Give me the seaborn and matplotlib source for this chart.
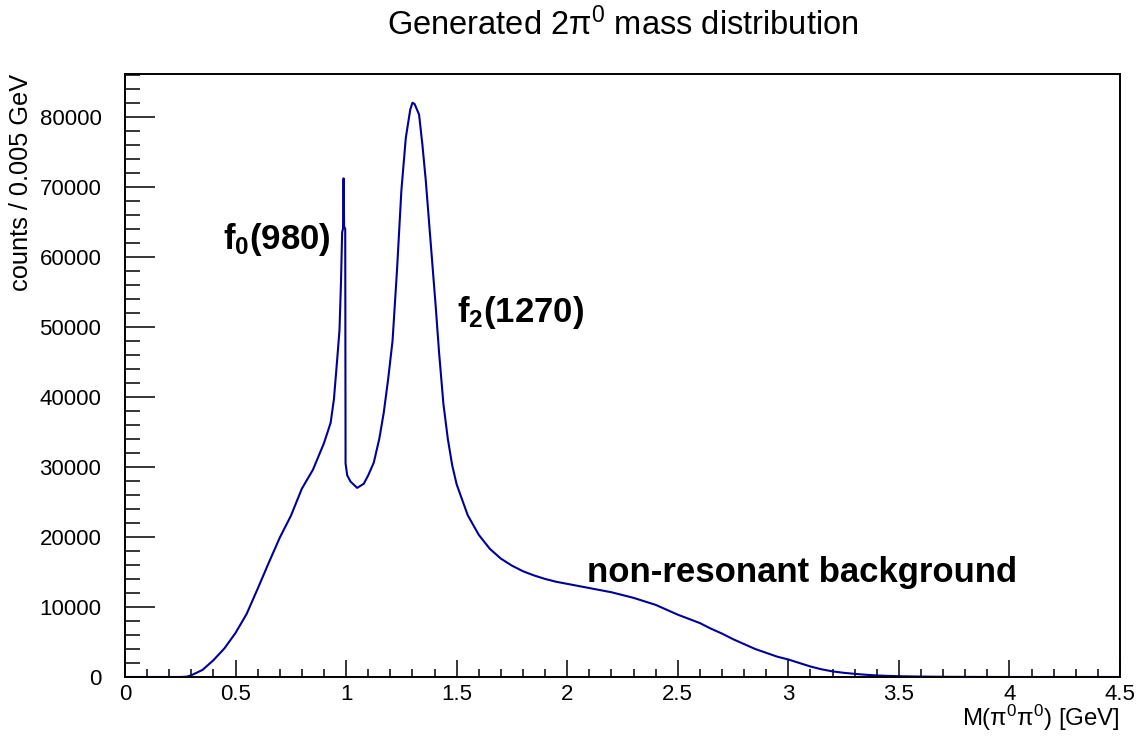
import numpy as np
import pandas as pd
import matplotlib
matplotlib.use("Agg")
import matplotlib.pyplot as plt
from matplotlib.ticker import MultipleLocator, FuncFormatter
import seaborn as sns

# ---- data (counts per 0.005 GeV) ----
mass = [0.00, 0.25, 0.28, 0.30, 0.35, 0.40, 0.45, 0.50, 0.55, 0.60, 0.65,
        0.70, 0.75, 0.80, 0.85, 0.90, 0.93, 0.945, 0.96, 0.97, 0.977,
        0.982, 0.986, 0.9885, 0.991, 0.996, 0.9975, 1.005, 1.02, 1.05,
        1.08, 1.10, 1.125, 1.15, 1.17, 1.19, 1.21, 1.23, 1.25, 1.27,
        1.29, 1.30, 1.31, 1.33, 1.345, 1.36, 1.375, 1.39, 1.405, 1.42,
        1.44, 1.46, 1.48, 1.50, 1.55, 1.60, 1.65, 1.70, 1.75, 1.80,
        1.85, 1.90, 1.95, 2.00, 2.05, 2.10, 2.15, 2.20, 2.25, 2.30,
        2.35, 2.40, 2.45, 2.50, 2.55, 2.60, 2.65, 2.70, 2.75, 2.80,
        2.85, 2.90, 2.95, 3.00, 3.05, 3.10, 3.15, 3.20, 3.25, 3.30,
        3.35, 3.40, 3.45, 3.50, 3.60, 3.70, 3.80, 3.90, 4.00, 4.50]
counts = [0, 0, 50, 250, 1000, 2400, 4100, 6300, 9000, 12600, 16300,
          19900, 23000, 26900, 29600, 33400, 36300, 39700, 45500, 49500, 56500,
          63500, 64000, 71200, 64300, 64000, 30500, 28800, 27900, 27000,
          27600, 28800, 30600, 34000, 37700, 42500, 48000, 58000, 69500, 77000,
          81000, 82000, 81800, 80300, 76000, 71000, 65000, 59000, 53000, 46500,
          39000, 34000, 30200, 27500, 23100, 20300, 18300, 16900, 15900, 15100,
          14500, 14000, 13600, 13300, 13000, 12700, 12400, 12100, 11700, 11300,
          10800, 10300, 9600, 8900, 8300, 7700, 6900, 6200, 5400, 4700,
          4000, 3450, 2900, 2500, 2000, 1500, 1100, 800, 600, 450,
          320, 220, 160, 110, 60, 30, 15, 5, 0, 0]

x_ticks = [0, 0.5, 1, 1.5, 2, 2.5, 3, 3.5, 4, 4.5]
y_ticks = [0, 10000, 20000, 30000, 40000, 50000, 60000, 70000, 80000]

title = "Generated 2\u03c0$^{0}$ mass distribution"
xlabel = "M(\u03c0$^{0}$\u03c0$^{0}$) [GeV]"
ylabel = "counts / 0.005 GeV"
annotations = [(0.445, 61140, r"$\mathbf{f_{0}(980)}$"),
               (1.500, 50710, r"$\mathbf{f_{2}(1270)}$"),
               (2.090, 13610, "non-resonant background")]

df = pd.DataFrame({"mass": mass, "counts": counts})

# ---- style ----
sns.set_theme(style="ticks")
plt.rcParams["font.family"] = ["Liberation Sans", "DejaVu Sans"]
plt.rcParams["mathtext.fontset"] = "custom"
plt.rcParams["mathtext.rm"] = "Liberation Sans"
plt.rcParams["mathtext.it"] = "Liberation Sans:italic"
plt.rcParams["mathtext.bf"] = "Liberation Sans:bold"
plt.rcParams["text.color"] = "black"
plt.rcParams["axes.labelcolor"] = "black"
plt.rcParams["xtick.color"] = "black"
plt.rcParams["ytick.color"] = "black"

W, H = 1144, 738
fig = plt.figure(figsize=(W / 100, H / 100), dpi=100)
L, R, T, B = 125, 1120, 74, 677
ax = fig.add_axes([L / W, 1 - B / H, (R - L) / W, (B - T) / H])

sns.lineplot(data=df, x="mass", y="counts", ax=ax, color="#000099",
             linewidth=1.5, estimator=None, sort=False)

ax.set_xlim(0, 4.5)
ax.set_ylim(0, 86100)
ax.set_xticks(x_ticks)
ax.set_yticks(y_ticks)
ax.xaxis.set_minor_locator(MultipleLocator(0.1))
ax.yaxis.set_minor_locator(MultipleLocator(2000))
ax.xaxis.set_major_formatter(FuncFormatter(lambda v, p: f"{v:g}"))
ax.yaxis.set_major_formatter(FuncFormatter(lambda v, p: f"{int(round(v))}"))

ax.tick_params(axis="both", which="both", direction="in", colors="black",
               labelcolor="black", width=1.1, labelsize=16)
ax.tick_params(axis="y", which="major", length=21.5, pad=17)
ax.tick_params(axis="y", which="minor", length=10.8)
ax.tick_params(axis="x", which="major", length=12.2, pad=5)
ax.tick_params(axis="x", which="minor", length=6)
ax.tick_params(top=False, right=False, which="both")
for s in ax.spines.values():
    s.set_linewidth(1.4)
    s.set_color("black")

ax.set_xlabel(xlabel, fontsize=17.3, loc="right", color="black")
ax.xaxis.set_label_coords(1.0, -0.043)
ax.set_ylabel(ylabel, fontsize=18.3, loc="top", color="black")
ax.yaxis.set_label_coords(-0.0927, 1.0)
ax.grid(False)

for xv, yv, txt in annotations:
    ax.text(xv, yv, txt, fontsize=25, fontweight="bold", ha="left",
            va="baseline", color="black")

fig.text((L + R) / 2 / W, 1 - 25 / H, title, fontsize=23.5,
         ha="center", va="center", color="black")

fig.savefig("out.png", dpi=100, facecolor="white")
